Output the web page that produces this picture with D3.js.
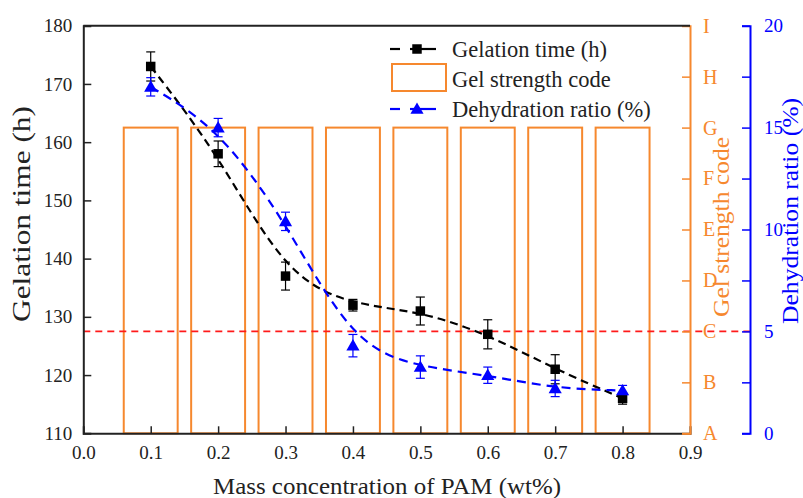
<!DOCTYPE html>
<html>
<head>
<meta charset="utf-8">
<script src="https://cdn.jsdelivr.net/npm/d3@7"></script>
<style>
  html, body { margin: 0; padding: 0; background: #fff; }
  svg { display: block; }
  svg text { font-family: "Liberation Serif", "Times New Roman", serif; }
</style>
</head>
<body>
<svg id="chart" width="803" height="498"></svg>
<script>
// ---- data ----
const concentrations = [0.1, 0.2, 0.3, 0.4, 0.5, 0.6, 0.7, 0.8];
const gelationTime = [173, 158, 137, 132, 131, 127, 121, 116];
const gelationErr = [2.5, 2.2, 2.4, 1.0, 2.4, 2.5, 2.5, 1.0];
const dehydration = [17.0, 15.0, 10.4, 4.3, 3.25, 2.85, 2.2, 2.1];
const dehydrationErr = [0.45, 0.45, 0.45, 0.55, 0.55, 0.4, 0.4, 0.25];
const strengthCode = ["G", "G", "G", "G", "G", "G", "G", "G"];
const codeLabels = ["A", "B", "C", "D", "E", "F", "G", "H", "I"];
const xTicks = [0.0, 0.1, 0.2, 0.3, 0.4, 0.5, 0.6, 0.7, 0.8, 0.9];
const leftTicks = [110, 120, 130, 140, 150, 160, 170, 180];
const blueTicks = [0, 2.5, 5, 7.5, 10, 12.5, 15, 17.5, 20];
const dehydrationThreshold = 5;

const ORANGE = "#F6882E", BLUE = "#0000FF", RED = "#FF1A1A", INK = "#222";
const FONT = "'Liberation Serif', 'Times New Roman', serif";

const svg = d3.select("#chart");
const L = 83.3, R = 690, T = 25.7, B = 433.3, BLUE_X = 750;

const x = d3.scaleLinear().domain([0, 0.9]).range([L, R]);
const yL = d3.scaleLinear().domain([110, 180]).range([B, T]);
const yC = d3.scaleLinear().domain([0, 8]).range([B, T]);
const yD = d3.scaleLinear().domain([0, 20]).range([B, T]);

// ---- gel strength bars ----
const barW = 0.08;
svg.append("g").selectAll("rect").data(concentrations).join("rect")
  .attr("x", (d) => x(d - barW / 2))
  .attr("width", (d) => x(d + barW / 2) - x(d - barW / 2))
  .attr("y", (d, i) => yC(codeLabels.indexOf(strengthCode[i])))
  .attr("height", (d, i) => yC(0) - yC(codeLabels.indexOf(strengthCode[i])))
  .attr("fill", "none").attr("stroke", ORANGE).attr("stroke-width", 2);

// ---- threshold line ----
svg.append("line")
  .attr("x1", L).attr("x2", BLUE_X)
  .attr("y1", yD(dehydrationThreshold)).attr("y2", yD(dehydrationThreshold))
  .attr("stroke", RED).attr("stroke-width", 1.6).attr("stroke-dasharray", "7,5");

// ---- axes ----
const axL = svg.append("g").attr("transform", `translate(${L},0)`)
  .call(d3.axisLeft(yL).tickValues(leftTicks).tickSize(-8).tickPadding(11).tickFormat(d3.format("d")));
const axB = svg.append("g").attr("transform", `translate(0,${B})`)
  .call(d3.axisBottom(x).tickValues(xTicks).tickSize(-7).tickPadding(12).tickFormat(d3.format(".1f")));
const axC = svg.append("g").attr("transform", `translate(${R},0)`)
  .call(d3.axisRight(yC).tickValues(d3.range(0, 9)).tickSize(-8).tickPadding(13).tickFormat((d) => codeLabels[d]));
const axD = svg.append("g").attr("transform", `translate(${BLUE_X},0)`)
  .call(d3.axisRight(yD).tickValues(blueTicks).tickSize(-8).tickPadding(14)
    .tickFormat((d) => (d % 5 === 0 ? d3.format("d")(d) : "")));

[axL, axB, axC, axD].forEach((g) => {
  g.attr("font-family", null).attr("font-size", null);
  g.selectAll("text").style("font-family", FONT).style("font-size", "19px");
});
[axL, axB].forEach((g) => {
  g.select(".domain").attr("stroke", INK).attr("stroke-width", 2);
  g.selectAll(".tick line").attr("stroke", INK).attr("stroke-width", 1.5);
  g.selectAll("text").attr("fill", INK);
});
axB.selectAll(".tick").filter((d) => d === 0 || d === 0.9).select("line").remove();
axL.selectAll(".tick").filter((d) => d === 110 || d === 180).select("line").remove();
axC.select(".domain").attr("stroke", ORANGE).attr("stroke-width", 2);
axC.selectAll(".tick line").attr("stroke", ORANGE).attr("stroke-width", 1.5);
axC.selectAll("text").attr("fill", ORANGE).style("font-size", "20px");
axD.select(".domain").attr("stroke", BLUE).attr("stroke-width", 2);
axD.selectAll(".tick line").attr("stroke", BLUE).attr("stroke-width", 1.5);
axD.selectAll("text").attr("fill", BLUE);

// top frame line
svg.append("line").attr("x1", L).attr("x2", R).attr("y1", T).attr("y2", T)
  .attr("stroke", INK).attr("stroke-width", 2);

// ---- lines ----
const gelPts = concentrations.map((c, i) => [c, gelationTime[i]]);
const dehPts = concentrations.map((c, i) => [c, dehydration[i]]);
svg.append("path").datum(gelPts)
  .attr("d", d3.line().curve(d3.curveBasis).x((d) => x(d[0])).y((d) => yL(d[1])))
  .attr("fill", "none").attr("stroke", "#000").attr("stroke-width", 2.2).attr("stroke-dasharray", "8,5");
svg.append("path").datum(dehPts)
  .attr("d", d3.line().curve(d3.curveBasis).x((d) => x(d[0])).y((d) => yD(d[1])))
  .attr("fill", "none").attr("stroke", BLUE).attr("stroke-width", 2.2).attr("stroke-dasharray", "9,6");

// ---- error bars ----
function errorBars(vals, errs, scale, color) {
  const g = svg.append("g").attr("stroke", color).attr("stroke-width", 1.2);
  concentrations.forEach((c, i) => {
    const cx = x(c), y1 = scale(vals[i] - errs[i]), y2 = scale(vals[i] + errs[i]);
    g.append("line").attr("x1", cx).attr("x2", cx).attr("y1", y1).attr("y2", y2);
    g.append("line").attr("x1", cx - 4.5).attr("x2", cx + 4.5).attr("y1", y1).attr("y2", y1);
    g.append("line").attr("x1", cx - 4.5).attr("x2", cx + 4.5).attr("y1", y2).attr("y2", y2);
  });
}
errorBars(gelationTime, gelationErr, yL, "#000");
errorBars(dehydration, dehydrationErr, yD, BLUE);

// ---- markers ----
const sq = d3.symbol().type(d3.symbolSquare).size(90);
const tri = d3.symbol().type(d3.symbolTriangle).size(75);
svg.append("g").selectAll("path").data(gelPts).join("path")
  .attr("d", sq).attr("transform", (d) => `translate(${x(d[0])},${yL(d[1])})`).attr("fill", "#000");
svg.append("g").selectAll("path").data(dehPts).join("path")
  .attr("d", tri).attr("transform", (d) => `translate(${x(d[0])},${yD(d[1]) + 1})`).attr("fill", BLUE);

// ---- legend ----
const lg = svg.append("g");
const lgText = ["Gelation time (h)", "Gel strength code", "Dehydration ratio (%)"];
const lgY = [49, 79, 109];
function legendLine(y, color) {
  lg.append("line").attr("x1", 390).attr("x2", 400).attr("y1", y).attr("y2", y)
    .attr("stroke", color).attr("stroke-width", 2.2);
  lg.append("line").attr("x1", 410).attr("x2", 436).attr("y1", y).attr("y2", y)
    .attr("stroke", color).attr("stroke-width", 2.2);
}
legendLine(lgY[0], "#000");
lg.append("path").attr("d", sq).attr("transform", `translate(417,${lgY[0]})`).attr("fill", "#000");
lg.append("rect").attr("x", 392).attr("y", 64).attr("width", 54).attr("height", 27)
  .attr("fill", "none").attr("stroke", ORANGE).attr("stroke-width", 2);
legendLine(lgY[2], BLUE);
lg.append("path").attr("d", tri).attr("transform", `translate(417,${lgY[2] + 1})`).attr("fill", BLUE);
lg.selectAll("text").data(lgText).join("text")
  .attr("x", 452).attr("y", (d, i) => lgY[i]).attr("dy", "0.35em")
  .attr("font-size", 22.5).attr("fill", INK).text((d) => d);

// ---- titles ----
svg.append("text").attr("x", 387).attr("y", 494).attr("text-anchor", "middle")
  .attr("font-size", 24).attr("fill", INK)
  .attr("textLength", 348).attr("lengthAdjust", "spacingAndGlyphs")
  .text("Mass concentration of PAM (wt%)");
svg.append("text").attr("transform", "translate(30,214) rotate(-90)").attr("text-anchor", "middle")
  .attr("font-size", 25).attr("fill", INK)
  .attr("textLength", 216).attr("lengthAdjust", "spacingAndGlyphs")
  .text("Gelation time (h)");
svg.append("text").attr("transform", "translate(729,227) rotate(-90)").attr("text-anchor", "middle")
  .attr("font-size", 24).attr("fill", ORANGE)
  .attr("textLength", 180).attr("lengthAdjust", "spacingAndGlyphs")
  .text("Gel strength code");
svg.append("text").attr("transform", "translate(798,211) rotate(-90)").attr("text-anchor", "middle")
  .attr("font-size", 24).attr("fill", BLUE)
  .attr("textLength", 226).attr("lengthAdjust", "spacingAndGlyphs")
  .text("Dehydration ratio (%)");
</script>
</body>
</html>
